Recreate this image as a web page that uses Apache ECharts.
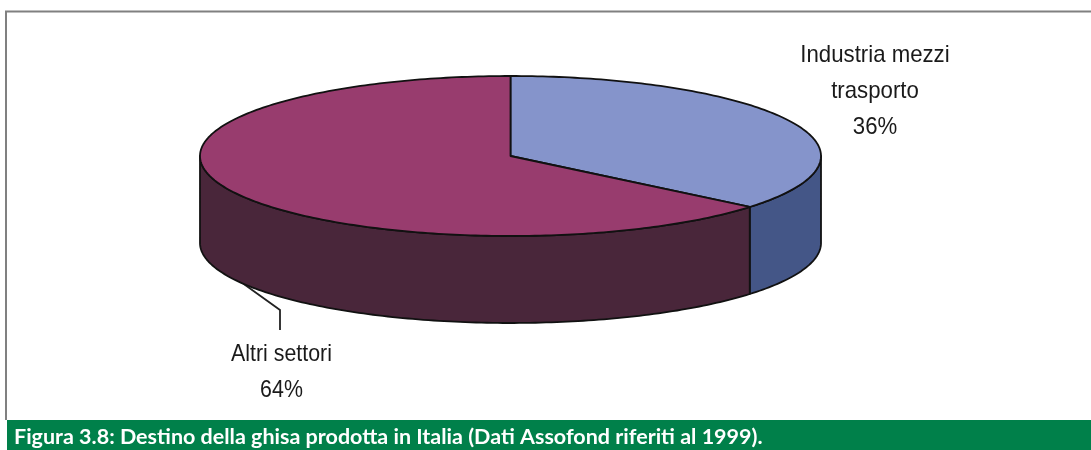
<!DOCTYPE html>
<html>
<head>
<meta charset="utf-8">
<style>html,body{margin:0;padding:0;background:#fff}#c{width:1091px;height:450px}</style>
<script src="https://cdn.jsdelivr.net/npm/echarts@6/dist/echarts.min.js"></script>
</head>
<body>
<div id="c"></div>
<script>
const categories = ['Industria mezzi\ntrasporto', 'Altri settori'];
const shares = [36, 64];
const topColors = ['#8594CB', '#983C6E'];
const sideColors = ['#445687', '#49263A'];
const caption = 'Figura 3.8: Destino della ghisa prodotta in Italia (Dati Assofond riferiti al 1999).';

const depth = 1.0875;               // wall height in units of the vertical radius
const labelAnchors = [[875, 37], [281.5, 336]];
const total = shares.reduce((a, b) => a + b, 0);
const startOf = i => shares.slice(0, i).reduce((a, b) => a + b, 0) / total * 360;

function rim(api, from, to, drop) {
  const pts = [];
  const n = Math.max(2, Math.ceil(Math.abs(to - from)));
  for (let k = 0; k <= n; k++) {
    const t = (from + (to - from) * k / n) * Math.PI / 180;
    pts.push(api.coord([Math.sin(t), Math.cos(t) - drop]));
  }
  return pts;
}
const edge = { stroke: '#111', lineWidth: 1.8, lineJoin: 'round' };

function renderWall(params, api) {
  const a0 = startOf(params.dataIndex);
  const a1 = a0 + api.value(0) / total * 360;
  const from = Math.max(a0, 90), to = Math.min(a1, 270);
  if (from >= to) return { type: 'group', children: [] };
  const pts = rim(api, from, to, 0).concat(rim(api, to, from, depth));
  return { type: 'polygon', shape: { points: pts },
    style: Object.assign({ fill: sideColors[params.dataIndex] }, edge) };
}
function renderTop(params, api) {
  const a0 = startOf(params.dataIndex);
  const a1 = a0 + api.value(0) / total * 360;
  const pts = [api.coord([0, 0])].concat(rim(api, a0, a1, 0));
  const anchor = labelAnchors[params.dataIndex];
  return { type: 'group', children: [
    { type: 'polygon', shape: { points: pts },
      style: Object.assign({ fill: topColors[params.dataIndex] }, edge) },
    { type: 'text', x: anchor[0], y: anchor[1], scaleX: params.dataIndex === 0 ? 0.925 : 0.89,
      style: {
        x: 0, y: 0,
        text: categories[params.dataIndex] + '\n' + api.value(0) + '%',
        fill: '#1a1a1a', font: '24px "Liberation Sans"', lineHeight: 36,
        align: 'center', verticalAlign: 'top' } }
  ] };
}

const chart = echarts.init(document.getElementById('c'), null, { renderer: 'canvas' });
chart.setOption({
  animation: false,
  backgroundColor: '#fff',
  title: {
    text: caption, left: 14, top: 425, padding: 0,
    textStyle: { color: '#fff', fontFamily: 'Lato', fontWeight: 'bold', fontSize: 21.5, lineHeight: 24 }
  },
  grid: { left: 200, width: 621, top: 76, height: 247 },
  xAxis: { type: 'value', min: -1, max: 1, show: false },
  yAxis: { type: 'value', min: -1 - depth, max: 1, show: false },
  graphic: [
    { type: 'rect', z: -1, shape: { x: 7, y: 420, width: 1084, height: 30 }, style: { fill: '#00804A' } },
    { type: 'polyline', shape: { points: [[241, 282], [280, 310], [280, 330]] },
      style: { stroke: '#222', lineWidth: 1.8, fill: null } },
    { type: 'polyline', shape: { points: [[6, 420], [6, 11.5], [1091, 11.5]] },
      style: { stroke: '#808080', lineWidth: 2, fill: null } }
  ],
  series: [
    { type: 'custom', coordinateSystem: 'cartesian2d', renderItem: renderWall, clip: false,
      data: shares.map(v => [v]), encode: { x: -1, y: -1 }, z: 2 },
    { type: 'custom', coordinateSystem: 'cartesian2d', renderItem: renderTop, clip: false,
      data: shares.map(v => [v]), encode: { x: -1, y: -1 }, z: 3 }
  ]
});
</script>
</body>
</html>
